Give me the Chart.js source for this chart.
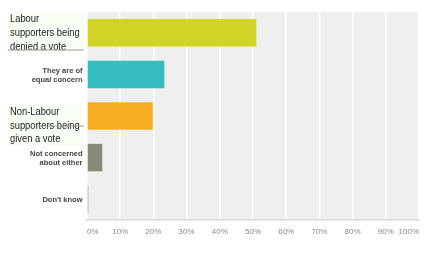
<!DOCTYPE html>
<html><head><meta charset="utf-8">
<script src="https://cdn.jsdelivr.net/npm/chart.js@4"></script>
<style>html,body{margin:0;padding:0;background:#fff}#wrap{width:440px;height:262px}</style>
</head><body><div id="wrap"><canvas id="c" width="440" height="262"></canvas></div>
<script>
const categories = [
  ["Labour", "supporters being", "denied a vote"],
  ["They are of", "equal concern"],
  ["Non-Labour", "supporters being", "given a vote"],
  ["Not concerned", "about either"],
  ["Don't know"]
];
const largeLabel = [true, false, true, false, false];
const values = [51.0, 23.3, 19.8, 4.6, 0.4];
const barColors = ["#d1d425", "#35bdbf", "#f7ae22", "#898a78", "#86a1aa"];
const tickLabels = ["0%","10%","20%","30%","40%","50%","60%","70%","80%","90%","100%"];

const labelPlugin = {
  id: 'labels',
  beforeDraw(chart) {
    const {ctx, chartArea: a} = chart;
    ctx.save();
    ctx.fillStyle = '#efefef';
    ctx.fillRect(a.left, a.top, a.right - a.left, a.bottom - a.top);
    ctx.restore();
  },
  afterDraw(chart) {
    const {ctx} = chart;
    const y = chart.scales.y;
    ctx.save();
    categories.forEach((lines, i) => {
      const cy = y.getPixelForValue(i);
      if (largeLabel[i]) {
        const off = i === 0 ? 0 : 9.5;
        const lh = 13.7;
        const top = cy + off - lh * (lines.length - 1) / 2;
        ctx.fillStyle = 'rgba(244,253,236,0.5)';
        ctx.fillRect(8, top - 7, 75, lh * lines.length);
        ctx.font = '11px "Liberation Sans", Arial, sans-serif';
        ctx.fillStyle = '#222';
        ctx.textAlign = 'left';
        ctx.textBaseline = 'middle';
        lines.forEach((t, k) => {
          ctx.save();
          ctx.translate(10, top + k * lh);
          ctx.scale(0.85, 1);
          ctx.fillText(t, 0, 0);
          ctx.restore();
        });
        ctx.strokeStyle = '#9a9a9a';
        ctx.lineWidth = 1;
        ctx.beginPath();
        if (i === 0) { ctx.moveTo(8, top + 2 * lh + 3.5); ctx.lineTo(84, top + 2 * lh + 3.5); }
        else { ctx.moveTo(34, top + lh + 0.5); ctx.lineTo(84, top + lh + 0.5); }
        ctx.stroke();
      } else {
        const lh = 9;
        const top = cy + 1 - lh * (lines.length - 1) / 2;
        ctx.font = 'bold 7.5px "Liberation Sans", Arial, sans-serif';
        ctx.fillStyle = '#444';
        ctx.textAlign = 'right';
        ctx.textBaseline = 'middle';
        lines.forEach((t, k) => ctx.fillText(t, 82.5, top + k * lh));
      }
    });
    ctx.restore();
  }
};

new Chart(document.getElementById('c'), {
  type: 'bar',
  data: {
    labels: categories,
    datasets: [{ data: values, backgroundColor: barColors, borderWidth: 0,
      barPercentage: 0.66, categoryPercentage: 1 }]
  },
  options: {
    indexAxis: 'y',
    responsive: false,
    animation: false,
    devicePixelRatio: 1,
    layout: { padding: { left: 0, top: 12, right: 21, bottom: 0 } },
    plugins: { legend: { display: false }, tooltip: { enabled: false } },
    scales: {
      x: {
        min: 0, max: 100,
        afterFit(s) { s.height = 42; },
        afterBuildTicks(s) { s.ticks = tickLabels.map((t, i) => ({ value: i * 10 })); },
        ticks: {
          stepSize: 10, align: 'inner', padding: 7,
          color: '#8a8a8a',
          font: { size: 8, family: '"Liberation Sans", Arial, sans-serif' },
          callback: (v, i) => tickLabels[i]
        },
        grid: { color: '#ffffff', lineWidth: 1.5, drawTicks: false },
        border: { display: true, color: '#d9d9d9', width: 1.5 }
      },
      y: {
        afterFit(s) { s.width = 87; },
        ticks: { display: false },
        grid: { display: false, drawTicks: false },
        border: { display: false }
      }
    }
  },
  plugins: [labelPlugin]
});
</script></body></html>
